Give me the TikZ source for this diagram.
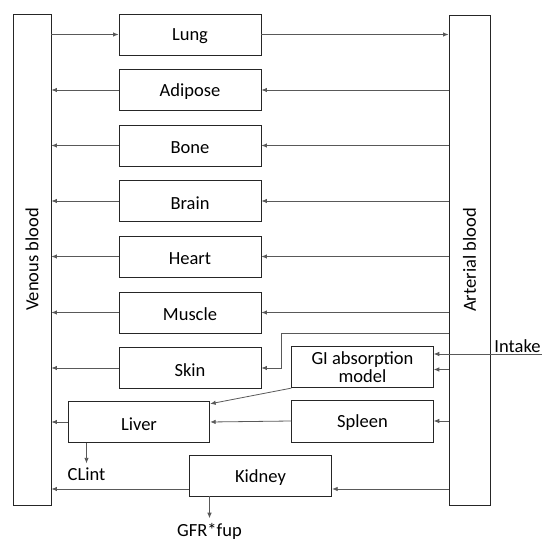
\documentclass[tikz,border=0pt]{standalone}
\usepackage{fontspec}
\setmainfont{Carlito}
\usetikzlibrary{arrows.meta,calc}
\newcommand\lowtxt[1]{\raisebox{-1.8pt}[\height][\depth]{#1}}
\begin{document}
\begin{tikzpicture}[x=1pt,y=-1pt,
  box/.style={draw=black!85,line width=0.9pt,fill=white,inner sep=0pt,font=\fontsize{18.5}{21}\selectfont,align=center},
  arr/.style={draw=black!65,line width=0.8pt,-{Latex[length=5.5pt,width=4.5pt]}},
  lbl/.style={inner sep=0pt,font=\fontsize{18.5}{21}\selectfont}]
\useasboundingbox (0,0) rectangle (542,540);
% blood compartments
\node[box,minimum width=38pt,minimum height=491pt] (ven) at (32,259.5) {};
\node[rotate=90,lbl] (ventxt) at (ven.center) {Venous blood};
\node[box,minimum width=41pt,minimum height=490pt] (art) at (469.5,260) {};
\node[rotate=90,lbl] (arttxt) at (art.center) {Arterial blood};
% organs
\node[box,minimum width=142pt,minimum height=41pt] (lung) at (190,34.5) {\lowtxt{Lung}};
\node[box,minimum width=142pt,minimum height=41pt] (adi) at (190,90) {\lowtxt{Adipose}};
\node[box,minimum width=142pt,minimum height=41pt] (bone) at (190,145.5) {\lowtxt{Bone}};
\node[box,minimum width=142pt,minimum height=41pt] (brain) at (190,201) {\lowtxt{Brain}};
\node[box,minimum width=142pt,minimum height=41pt] (heart) at (190,256.5) {\lowtxt{Heart}};
\node[box,minimum width=142pt,minimum height=41pt] (muscle) at (190,312.5) {\lowtxt{Muscle}};
\node[box,minimum width=142pt,minimum height=41pt] (skin) at (190,368) {\lowtxt{Skin}};
\node[box,minimum width=141.6pt,minimum height=41pt] (gi) at (362.5,367.2) {GI absorption\\[-3.5pt]model};
\node[box,minimum width=141.5pt,minimum height=40.5pt] (liver) at (139,422) {\lowtxt{Liver}};
\node[box,minimum width=141.6pt,minimum height=42pt] (spleen) at (362.5,421) {\lowtxt{Spleen}};
\node[box,minimum width=142.4pt,minimum height=40.7pt] (kidney) at (260.5,475.7) {\lowtxt{Kidney}};
% labels
\node[lbl] (intake) at (517.5,346.5) {Intake};
\coordinate (intakestart) at (542,354);
\node[lbl] (clint) at (86.5,474) {CLint};
\node[lbl] (gfr) at (209.5,531.5) {GFR*fup};
% lung
\draw[arr] (ven.east |- lung.west) -- (lung.west);
\draw[arr] (lung.east) -- (lung.east -| art.west);
% organs from arterial to venous
\foreach \o in {adi,bone,brain,heart,muscle}{
  \draw[arr] (art.west |- \o.east) -- (\o.east);
  \draw[arr] (\o.west) -- (ven.east |- \o.west);
}
% skin
\coordinate (sk) at (281,333);
\draw[arr] (art.west |- sk) -- (sk) |- (skin.east);
\draw[arr] (skin.west) -- (ven.east |- skin.west);
% GI
\draw[arr] (intakestart) -- (intakestart -| gi.east);
\coordinate (gin) at (0,369.5);
\draw[arr] (art.west |- gin) -- (gi.east |- gin);
\draw[arr] (gi.south west) -- ($(liver.north east)+(0,2.5)$);
% spleen & liver
\draw[arr] (art.west |- spleen.east) -- (spleen.east);
\draw[arr] (spleen.west) -- (liver.east);
\draw[arr] (liver.west) -- (ven.east |- liver.west);
\draw[arr] (liver.south -| clint) -- ($(clint.north)+(0,-4)$);
% kidney
\coordinate (kin) at (0,489);
\draw[arr] (art.west |- kin) -- (kidney.east |- kin);
\draw[arr] (kidney.west |- kin) -- (ven.east |- kin);
\draw[arr] (kidney.south -| gfr) -- ($(gfr.north)+(0,-5)$);
\end{tikzpicture}
\end{document}
